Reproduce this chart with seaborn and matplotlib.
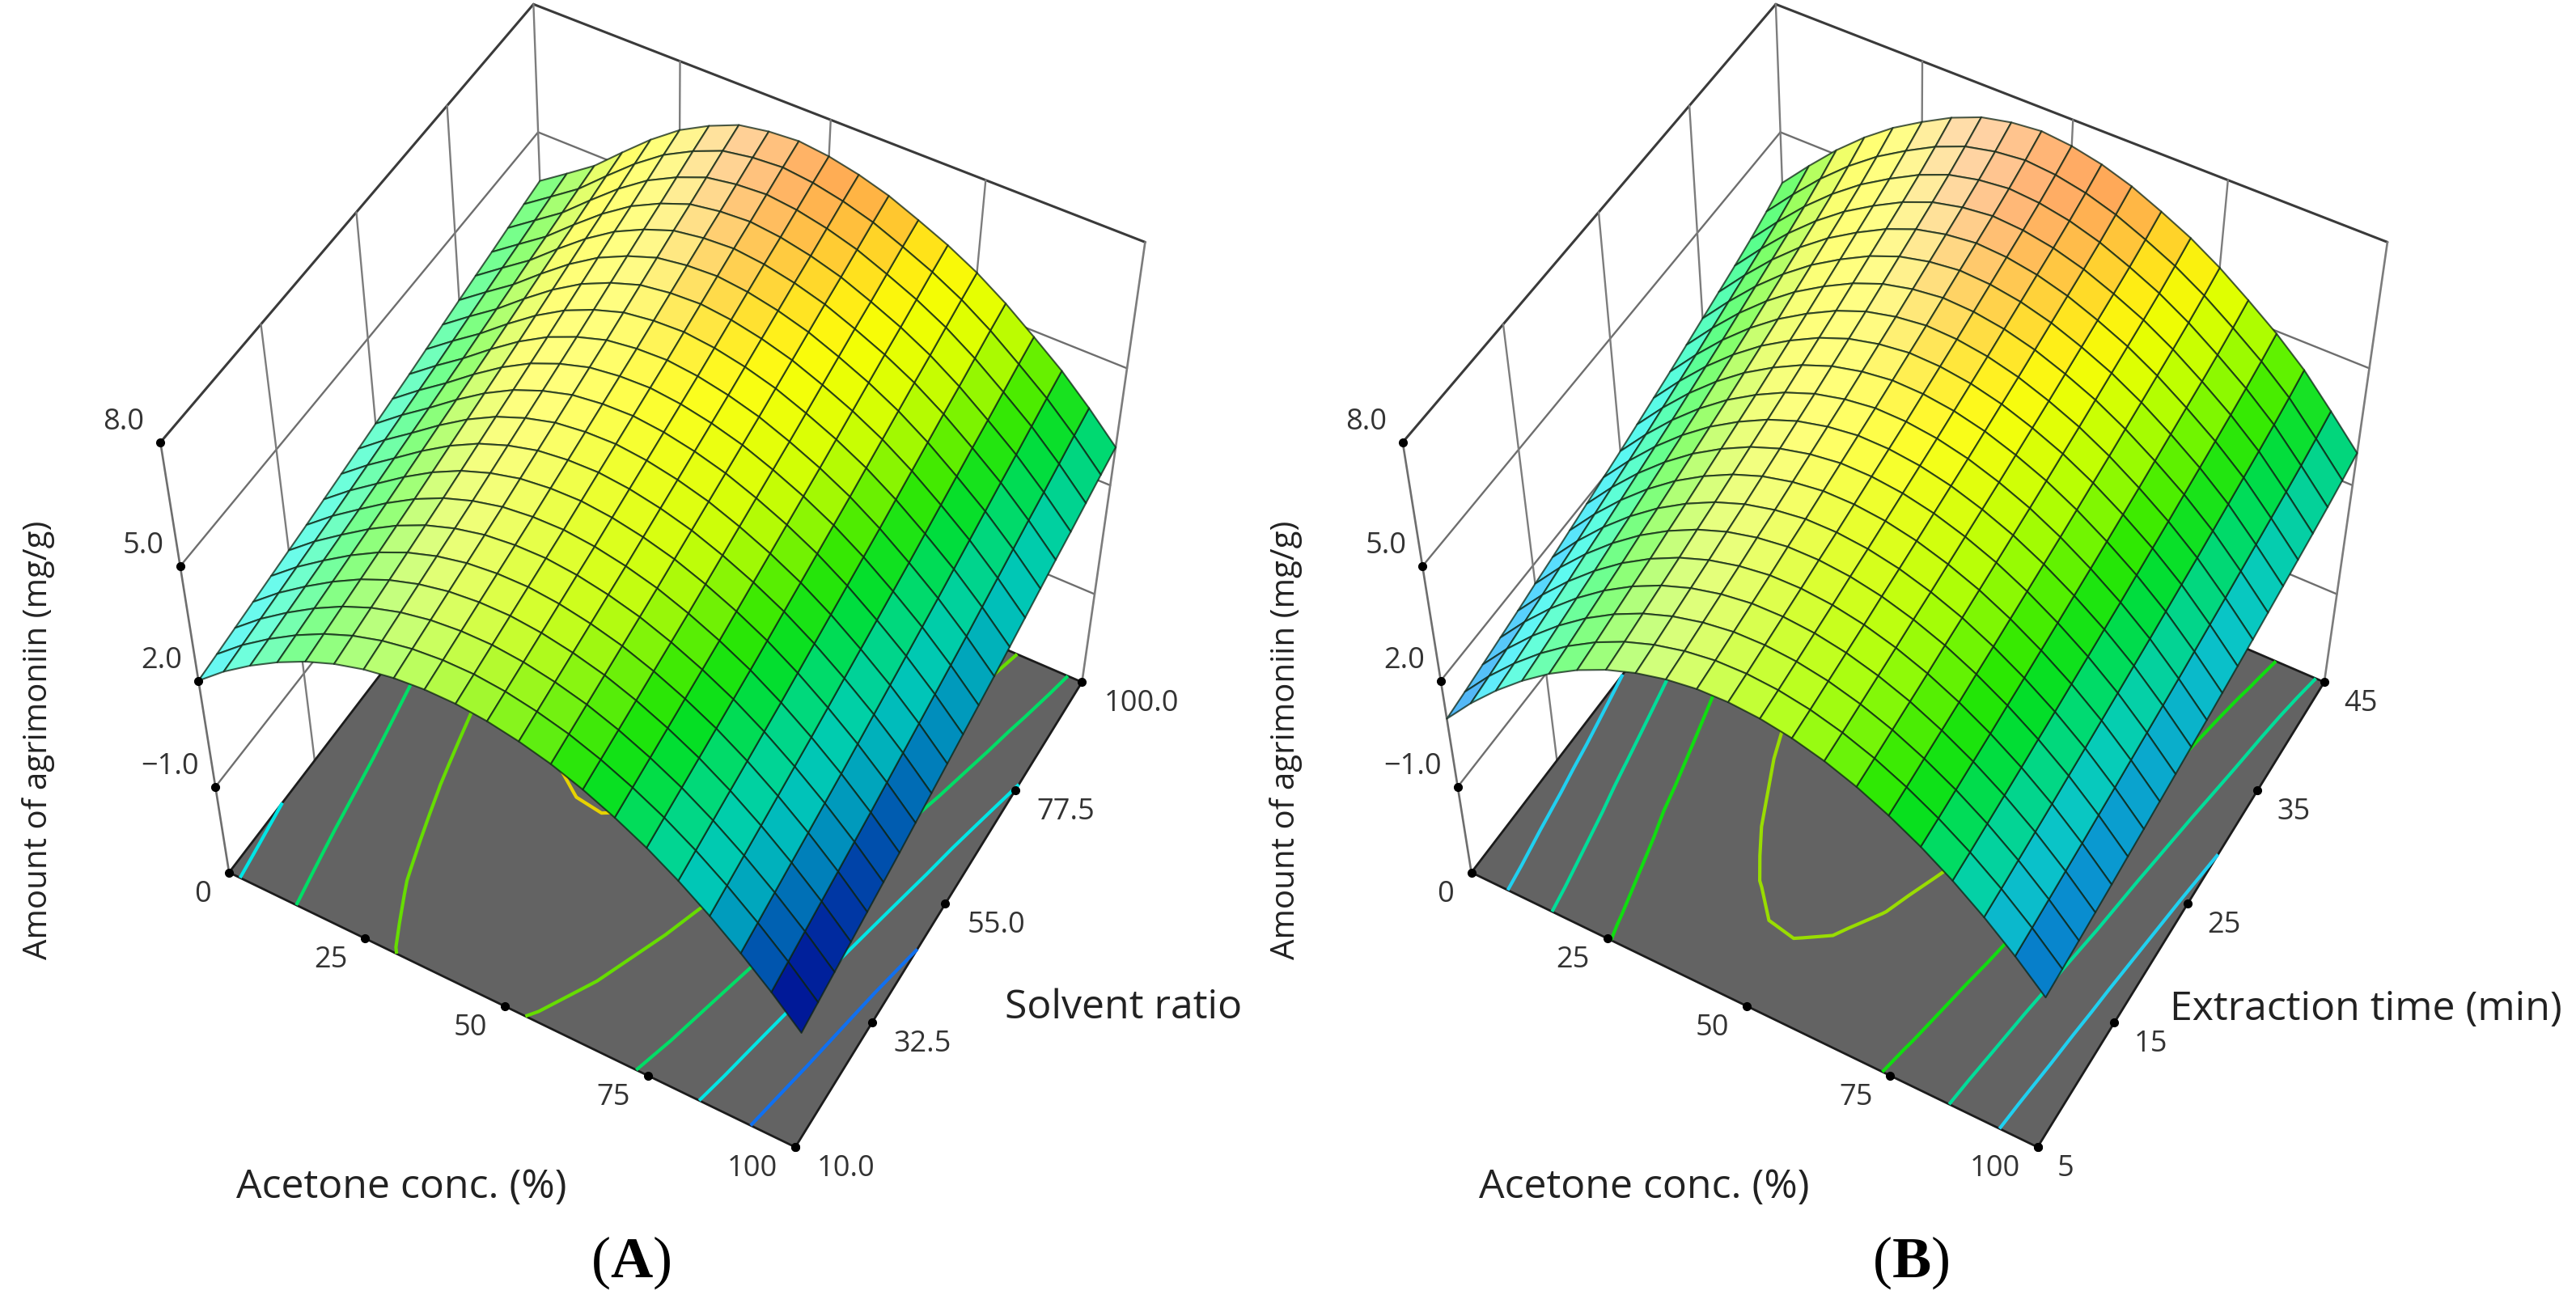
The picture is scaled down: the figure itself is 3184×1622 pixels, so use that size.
#!/usr/bin/env python3

import numpy as np
import matplotlib
matplotlib.use("Agg")
import matplotlib.pyplot as plt
import seaborn as sns
from mpl_toolkits.mplot3d import proj3d

FIG_W, FIG_H = 3184, 1622
DPI = 100

# camera, fitted on the box corners of the reference
ELEV, AZIM = 51.214, -60.696
BOX = (1, 0.988, 1.0263)
ZOOM = 1.6368
AX_SIZE = 860
AX_CY = 720.4
AX_CX = {"A": 808.9, "B": 2344.4}

Z_FLOOR = -3.59
Z_TOP = 8.0
z_ticks = [-1.0, 2.0, 5.0, 8.0]
z_tick_labels = ["\u22121.0", "2.0", "5.0", "8.0"]

acetone = [0, 5, 10, 15, 20, 25, 30, 35, 40, 45, 50, 55, 60, 65, 70, 75, 80, 85, 90, 95, 100]
acetone_ticks = [0, 25, 50, 75, 100]
acetone_tick_labels = ["0", "25", "50", "75", "100"]

# panel A
solvent = [10.0, 14.5, 19.0, 23.5, 28.0, 32.5, 37.0, 41.5, 46.0, 50.5, 55.0,
           59.5, 64.0, 68.5, 73.0, 77.5, 82.0, 86.5, 91.0, 95.5, 100.0]
solvent_ticks = [10.0, 32.5, 55.0, 77.5, 100.0]
solvent_tick_labels = ["10.0", "32.5", "55.0", "77.5", "100.0"]
# amount along the front edge (solvent ratio 10), per acetone step
front_a = [2.00, 2.61, 3.13, 3.58, 3.96, 4.26, 4.48, 4.62, 4.69, 4.69, 4.61,
           4.46, 4.25, 3.96, 3.60, 3.18, 2.68, 2.11, 1.47, 0.77, 0.00]
# total gain from front edge to back edge, per acetone step
gain_a = [1.80, 1.65, 1.60, 1.75, 1.95, 2.15, 2.30, 2.45, 2.50, 2.55, 2.55,
          2.55, 2.55, 2.55, 2.60, 2.65, 2.70, 2.75, 2.85, 2.92, 3.00]
# share of that gain reached, per solvent step
share_a = [0.00, 0.045, 0.09, 0.135, 0.18, 0.225, 0.27, 0.32, 0.37, 0.42, 0.47,
           0.52, 0.57, 0.625, 0.68, 0.735, 0.79, 0.84, 0.895, 0.95, 1.00]
levels_a = [1.12, 2.25, 3.35, 4.5, 5.6]
level_colors_a = ["#1070f0", "#00e5e5", "#00dd66", "#66dd00", "#e6d200"]
cmap_nodes_a = ["#00008b", "#0038a8", "#00b8c8", "#00d8a0", "#00e000", "#c8ff00", "#ffff00", "#ffa040"]

# panel B
extraction = [5, 7, 9, 11, 13, 15, 17, 19, 21, 23, 25, 27, 29, 31, 33, 35, 37, 39, 41, 43, 45]
extraction_ticks = [5, 15, 25, 35, 45]
extraction_tick_labels = ["5", "15", "25", "35", "45"]
front_b = [0.95, 1.75, 2.46, 3.09, 3.64, 4.10, 4.47, 4.75, 4.95, 5.07, 5.10,
           5.05, 4.92, 4.71, 4.42, 4.05, 3.61, 3.09, 2.49, 1.81, 1.05]
gain_b = [2.80, 2.70, 2.65, 2.60, 2.55, 2.50, 2.50, 2.50, 2.45, 2.40, 2.30,
          2.20, 2.10, 2.00, 1.95, 1.90, 1.85, 1.85, 1.85, 1.80, 1.80]
share_b = [0.00, 0.035, 0.075, 0.115, 0.155, 0.20, 0.24, 0.285, 0.33, 0.375, 0.42,
           0.47, 0.52, 0.57, 0.625, 0.68, 0.735, 0.79, 0.85, 0.92, 1.00]
levels_b = [2.0, 3.08, 4.15, 5.35]
level_colors_b = ["#20d0f0", "#00dd99", "#10dd10", "#99dd00"]
cmap_nodes_b = ["#0050b8", "#10b8e0", "#00d8a0", "#00e000", "#a8ff00", "#ffff00", "#ffa050"]

TEXT_COLOR = "#333333"


def px(x, y):
    return x / FIG_W, 1 - y / FIG_H


def draw_panel(fig, key, y_vals, y_ticks, y_labels, front, gain, share, levels,
               level_colors, cmap_nodes, cmap_range, y_label_dx):
    cx = AX_CX[key]
    rect = [(cx - AX_SIZE / 2) / FIG_W, (FIG_H - AX_CY - AX_SIZE / 2) / FIG_H,
            AX_SIZE / FIG_W, AX_SIZE / FIG_H]
    ax = fig.add_axes(rect, projection="3d", computed_zorder=False)
    ax.set_xlim(0, 100)
    ax.set_ylim(y_vals[0], y_vals[-1])
    ax.set_zlim(Z_FLOOR, Z_TOP)
    ax.set_proj_type("persp")
    ax.view_init(elev=ELEV, azim=AZIM)
    ax.set_box_aspect(BOX, zoom=ZOOM)
    ax.set_axis_off()
    ax.patch.set_visible(False)

    y0, y1 = y_vals[0], y_vals[-1]

    def line(xs, ys, zs, color="#555555", lw=1.5, zorder=1):
        ax.plot(xs, ys, zs, color=color, lw=lw, zorder=zorder, clip_on=False,
                solid_capstyle="round")

    # walls
    for z in z_ticks:
        top = z == Z_TOP
        line([0, 0], [y0, y1], [z, z], color="#3a3a3a" if top else "#6e6e6e", lw=2.2 if top else 1.7)
        line([0, 100], [y1, y1], [z, z], color="#3a3a3a" if top else "#6e6e6e", lw=2.2 if top else 1.7)
    for t in y_ticks[1:-1]:
        line([0, 0], [t, t], [Z_FLOOR, Z_TOP], color="#7c7c7c", lw=1.7)
    for t in acetone_ticks[1:-1]:
        line([t, t], [y1, y1], [Z_FLOOR, Z_TOP], color="#7c7c7c", lw=1.7)
    line([0, 0], [y0, y0], [Z_FLOOR, Z_TOP], color="#6e6e6e", lw=1.9)
    line([0, 0], [y1, y1], [Z_FLOOR, Z_TOP], color="#7c7c7c", lw=1.7)
    line([100, 100], [y1, y1], [Z_FLOOR, Z_TOP], color="#7c7c7c", lw=1.9)

    # floor
    fx, fy = np.meshgrid([0, 100], [y0, y1], indexing="ij")
    floor = ax.plot_surface(fx, fy, np.full_like(fx, Z_FLOOR, dtype=float), color="#636363",
                            shade=False, linewidth=0, zorder=2)
    floor.set_clip_on(False)
    for xs, ys in (([0, 100], [y0, y0]), ([100, 100], [y0, y1]), ([0, 0], [y0, y1]), ([0, 100], [y1, y1])):
        line(xs, ys, [Z_FLOOR, Z_FLOOR], color="#1c1c1c", lw=2.0, zorder=2.5)

    # surface values
    X, Y = np.meshgrid(acetone, y_vals, indexing="ij")
    Z = np.array(front)[:, None] + np.outer(gain, share)

    # contour lines on the floor
    cs = ax.contour(X, Y, Z, levels=levels, colors=level_colors, linewidths=3.0,
                    zdir="z", offset=Z_FLOOR, zorder=3)
    cs.set_clip_on(False)

    # surface colour: height plus a soft highlight on the left of the ridge
    cmap = sns.blend_palette(cmap_nodes, as_cmap=True)
    base = cmap((Z - cmap_range[0]) / (cmap_range[1] - cmap_range[0]))
    slope = np.gradient(Z, np.array(acetone, dtype=float), axis=0)
    width = np.where(slope > 0.05, 0.15, 0.065)
    glow = 0.5 * np.exp(-((slope - 0.05) / width) ** 2)
    boost = 1 + 0.25 * np.clip(slope / 0.1, 0, 1)
    base[..., :3] = np.clip(base[..., :3] * boost[..., None], 0, 1)
    base[..., :3] = base[..., :3] + (1 - base[..., :3]) * glow[..., None]
    # each cell takes the mean of its four corners
    cells = base.copy()
    cells[:-1, :-1] = (base[:-1, :-1] + base[1:, :-1] + base[:-1, 1:] + base[1:, 1:]) / 4
    surf = ax.plot_surface(X, Y, Z, facecolors=cells, rstride=1, cstride=1, shade=False,
                           edgecolor=(0.05, 0.14, 0.08, 0.75), linewidth=1.5, zorder=4)
    surf.set_clip_on(False)

    # tick dots and labels
    M = ax.get_proj()

    def tick(x, y, z, label, dx, dy, ha):
        ax.plot([x], [y], [z], "o", color="black", ms=7, zorder=5, clip_on=False)
        sx, sy, _ = proj3d.proj_transform(x, y, z, M)
        ax.annotate(label, xy=(sx, sy), xycoords="data", xytext=(dx, dy), textcoords="offset pixels",
                    ha=ha, va="center", fontsize=26, color=TEXT_COLOR, annotation_clip=False)

    for z, lab in zip(z_ticks, z_tick_labels):
        tick(0, y0, z, lab, -20, 25, "right")
    for a, lab in zip(acetone_ticks, acetone_tick_labels):
        tick(a, y0, Z_FLOOR, lab, -22, -27, "right")
    for t, lab in zip(y_ticks, y_labels):
        tick(100, t, Z_FLOOR, lab, y_label_dx, -27, "left")
    return ax


sns.set_theme(style="white")
plt.rcParams["font.family"] = ["Open Sans", "DejaVu Sans"]
plt.rcParams["mathtext.fontset"] = "custom"
plt.rcParams["mathtext.bf"] = "Liberation Serif:bold"
plt.rcParams["mathtext.rm"] = "Liberation Serif"

fig = plt.figure(figsize=(FIG_W / DPI, FIG_H / DPI), dpi=DPI)

draw_panel(fig, "A", solvent, solvent_ticks, solvent_tick_labels, front_a, gain_a, share_a,
           levels_a, level_colors_a, cmap_nodes_a, (0.0, 7.0), 27)
draw_panel(fig, "B", extraction, extraction_ticks, extraction_tick_labels, front_b, gain_b, share_b,
           levels_b, level_colors_b, cmap_nodes_b, (1.0, 7.0), 24)

for x, y, s, rot, size in [
    (48, 915, "Amount of agrimoniin (mg/g)", 90, 29),
    (1590, 915, "Amount of agrimoniin (mg/g)", 90, 29),
    (496, 1468, "Acetone conc. (%)", 0, 36),
    (2032, 1468, "Acetone conc. (%)", 0, 36),
    (1389, 1246, "Solvent ratio", 0, 36),
    (2924, 1248, "Extraction time (min)", 0, 36),
]:
    fig.text(*px(x, y), s, rotation=rot, ha="center", va="center", fontsize=size, color="#222222")

for x, lab in [(780, "A"), (2362, "B")]:
    fig.text(*px(x, 1560), r"$\mathrm{(}\mathbf{%s}\mathrm{)}$" % lab, ha="center", va="center",
             fontsize=52, color="black")

fig.savefig("out.png", dpi=DPI, facecolor="white")
